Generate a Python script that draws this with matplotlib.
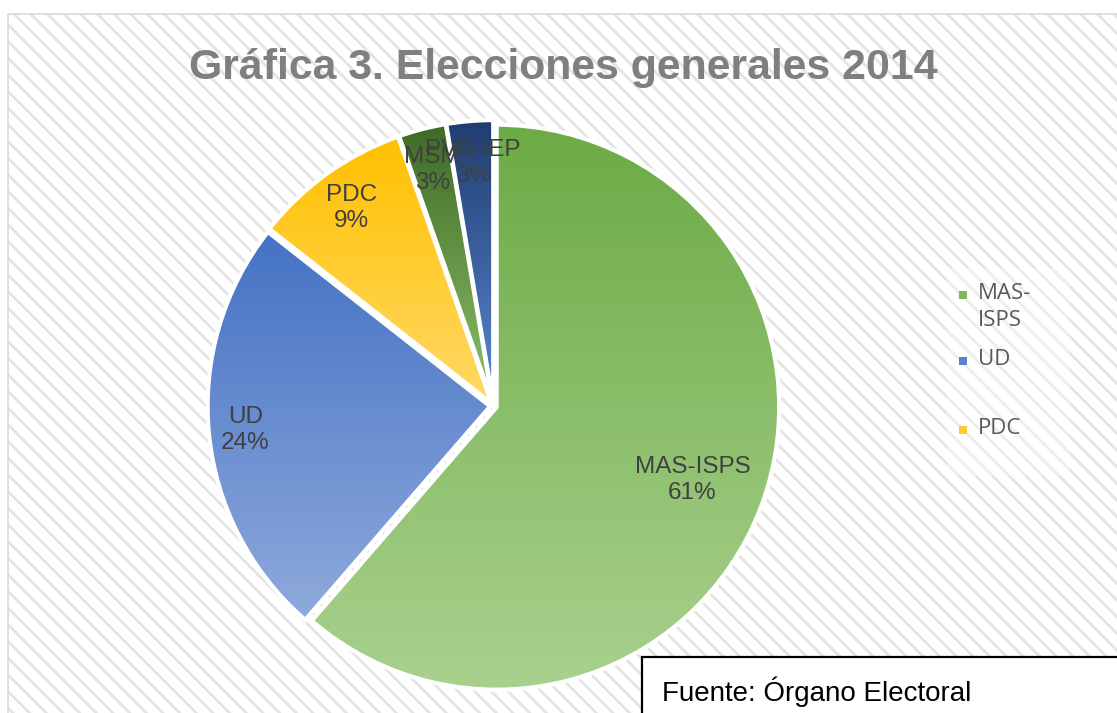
import numpy as np
import matplotlib
matplotlib.use('Agg')
import matplotlib.pyplot as plt
from matplotlib.patches import Rectangle
from matplotlib.colors import LinearSegmentedColormap

# ---- data ----
categories = ['MAS-ISPS', 'UD', 'PDC', 'MSM', 'PVB-IEP']
values = [61.36, 24.23, 9.04, 2.71, 2.66]
legend_labels = ['MAS-\nISPS', 'UD', 'PDC']
title = 'Gráfica 3. Elecciones generales 2014'
source = 'Fuente: Órgano Electoral'

# ---- style ----
top_colors = ['#6CAB45', '#4472C4', '#FFC000', '#3F6A26', '#1F3D70']
bottom_colors = ['#A9D18E', '#8FAADC', '#FFD966', '#8CC168', '#5B87D1']
legend_colors = ['#7CB85A', '#5B82CC', '#FFCA33']
label_dist = [0.74, 0.87, 0.85, 0.85, 0.85]

W, H = 1117, 713
plt.rcParams['hatch.linewidth'] = 2.0
fig = plt.figure(figsize=(W / 100, H / 100), dpi=100)
fig.patch.set_facecolor('white')

# background axes in pixel coordinates
bg = fig.add_axes([0, 0, 1, 1])
bg.set_xlim(0, W)
bg.set_ylim(H, 0)
bg.axis('off')
bg.add_patch(Rectangle((8, 14), W, H, facecolor='white', edgecolor='#E4E4E4',
                       hatch='\\\\', lw=0))
bg.add_patch(Rectangle((8, 14), W, H, facecolor='none', edgecolor='#D9D9D9', lw=1.2))

# title
bg.text(563, 79, title, ha='center', va='baseline', fontsize=30.8, fontweight='bold',
        color='#7F7F7F', family='Liberation Sans')

# pie axes
r_px = 282.5
cx, cy = 493.5, 406
lim = 1.1
size = 2 * lim * r_px
ax = fig.add_axes([(cx - size / 2) / W, (H - cy - size / 2) / H, size / W, size / H])
ax.patch.set_visible(False)

wedges, _ = ax.pie(values, startangle=90, counterclock=False, explode=[0.012] * len(values),
                   radius=1, wedgeprops=dict(edgecolor='white', linewidth=3, facecolor='none'))

grad = np.linspace(0, 1, 256).reshape(-1, 1)
for w, tc, bc in zip(wedges, top_colors, bottom_colors):
    bb = w.get_path().get_extents()
    cmap = LinearSegmentedColormap.from_list('g', [tc, bc])
    im = ax.imshow(grad, cmap=cmap, extent=[bb.x0, bb.x1, bb.y0, bb.y1], origin='upper',
                   aspect='auto', interpolation='bilinear', zorder=0.5)
    im.set_clip_path(w)
    w.set_zorder(1)

for w, cat, v, d in zip(wedges, categories, values, label_dist):
    mid = np.deg2rad((w.theta1 + w.theta2) / 2)
    x = w.center[0] + d * np.cos(mid)
    y = w.center[1] + d * np.sin(mid)
    ax.text(x, y, f'{cat}\n{round(v)}%', ha='center', va='center', fontsize=17.5,
            color='#404040', family='Liberation Sans', zorder=3, linespacing=1.25)

ax.set_xlim(-lim, lim)
ax.set_ylim(-lim, lim)
ax.set_aspect('equal')
ax.axis('off')

# legend (first three entries visible)
bg.add_patch(Rectangle((947, 268), 123, 208, facecolor='white', alpha=0.35, lw=0))
legend_y = [295, 361, 430]
for lab, col, y in zip(legend_labels, legend_colors, legend_y):
    bg.add_patch(Rectangle((959, y - 4), 8, 8, facecolor=col, lw=0))
    bg.text(978, y - 12, lab, ha='left', va='top', fontsize=16, color='#595959',
            family='Open Sans', linespacing=1.4)

# source box
bg.add_patch(Rectangle((642, 657), 520, 120, facecolor='white', edgecolor='black', lw=1.6))
bg.text(662, 701, source, ha='left', va='baseline', fontsize=20, color='black',
        family='Liberation Sans', zorder=5)

fig.savefig('out.png', dpi=100)
